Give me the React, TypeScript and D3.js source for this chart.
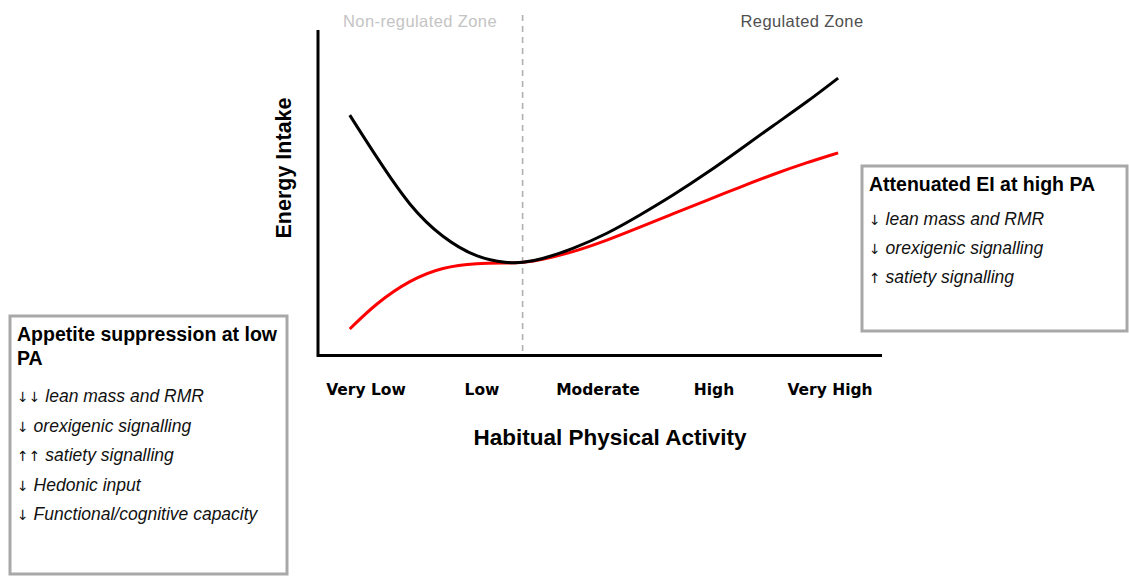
import React from "react";
import * as d3 from "d3";

const categories = ["Very Low", "Low", "Moderate", "High", "Very High"];
// x positions in category-index units, y = relative energy intake (0-100)
const paX = [-0.14, 0.09, 0.38, 0.66, 0.96, 1.22, 1.35, 1.5, 1.78, 2.08, 2.36, 2.65, 2.94, 3.22, 3.51, 3.8, 4.07];
const blackEI = [73.8, 60.9, 45.5, 36, 29.8, 28.3, 28.4, 29.3, 32.6, 37.3, 43.0, 49.2, 56, 63.1, 70.6, 77.8, 85.2];
const redEI = [8, 16, 23.1, 27.1, 28.3, 28.3, 28.4, 29.2, 31.6, 35.3, 39.3, 43.5, 47.6, 51.6, 55.6, 59.2, 62.2];
const zoneBoundary = 1.35;
const zoneLabels = ["Non-regulated Zone", "Regulated Zone"];
const lowTitle = ["Appetite suppression at low", "PA"];
const lowItems = ["↓↓ lean mass and RMR", "↓ orexigenic signalling", "↑↑ satiety signalling", "↓ Hedonic input", "↓ Functional/cognitive capacity"];
const highTitle = "Attenuated EI at high PA";
const highItems = ["↓ lean mass and RMR", "↓ orexigenic signalling", "↑ satiety signalling"];

export default function App() {
  const W = 1129, H = 576;
  const x = d3.scaleLinear().domain([0, 4]).range([366, 830]);
  const y = d3.scaleLinear().domain([0, 100]).range([355, 30]);
  const line = d3.line<number>().x((_, i) => x(paX[i])).y((d) => y(d)).curve(d3.curveBasis);
  const font = "'Liberation Sans', Arial, sans-serif";
  const split = (s: string) => {
    const m = s.match(/^([↓↑]+)\s(.*)$/);
    return m ? [m[1], m[2]] : ["", s];
  };
  return (
    <svg width={W} height={H} style={{ position: "absolute", left: 0, top: 0 }} fontFamily={font}>
      <rect x={0} y={0} width={W} height={H} fill="#fff" />
      {/* dashed zone boundary */}
      <line x1={x(zoneBoundary)} x2={x(zoneBoundary)} y1={15} y2={355} stroke="#b0b0b0" strokeWidth={1.6} strokeDasharray="6,5" />
      <text x={420} y={27} textAnchor="middle" fontSize={16.5} letterSpacing={0.4} fill="#c4c4c4">{zoneLabels[0]}</text>
      <text x={802} y={27} textAnchor="middle" fontSize={16.5} letterSpacing={0.4} fill="#505050">{zoneLabels[1]}</text>
      {/* axes */}
      <path d={`M${318},30 V${355.5} H${882}`} fill="none" stroke="#000" strokeWidth={3} />
      {/* curves */}
      <path d={line(redEI) || ""} fill="none" stroke="#ff0000" strokeWidth={3} />
      <path d={line(blackEI) || ""} fill="none" stroke="#000" strokeWidth={3} />
      {/* category labels */}
      {categories.map((c, i) => (
        <text key={c} x={x(i)} y={395} textAnchor="middle" fontSize={15.5} fontWeight="bold" fontFamily="'DejaVu Sans', Verdana, sans-serif" fill="#000">{c}</text>
      ))}
      <text x={610} y={445} textAnchor="middle" fontSize={22.5} fontWeight="bold" fill="#000">Habitual Physical Activity</text>
      <text transform="translate(291,168) rotate(-90)" textAnchor="middle" fontSize={21.5} fontWeight="bold" fill="#000">Energy Intake</text>
      {/* left box */}
      <rect x={10} y={316} width={277} height={258} fill="#fff" stroke="#a8a8a8" strokeWidth={3} />
      {lowTitle.map((t, i) => (
        <text key={t} x={17} y={341 + i * 24} fontSize={19.5} fontWeight="bold" fill="#000">{t}</text>
      ))}
      {lowItems.map((t, i) => {
        const [a, b] = split(t);
        return (
          <text key={t} x={17} y={402 + i * 29.5} fontSize={17.5} fill="#111">
            <tspan fontFamily="'DejaVu Sans', sans-serif" fontSize={14}>{a}</tspan>
            <tspan fontStyle="italic"> {b}</tspan>
          </text>
        );
      })}
      {/* right box */}
      <rect x={862} y={166} width={265} height={165} fill="#fff" stroke="#a8a8a8" strokeWidth={3} />
      <text x={869} y={191} fontSize={19.5} fontWeight="bold" fill="#000">{highTitle}</text>
      {highItems.map((t, i) => {
        const [a, b] = split(t);
        return (
          <text key={t} x={869} y={225 + i * 29} fontSize={17.5} fill="#111">
            <tspan fontFamily="'DejaVu Sans', sans-serif" fontSize={14}>{a}</tspan>
            <tspan fontStyle="italic"> {b}</tspan>
          </text>
        );
      })}
    </svg>
  );
}
